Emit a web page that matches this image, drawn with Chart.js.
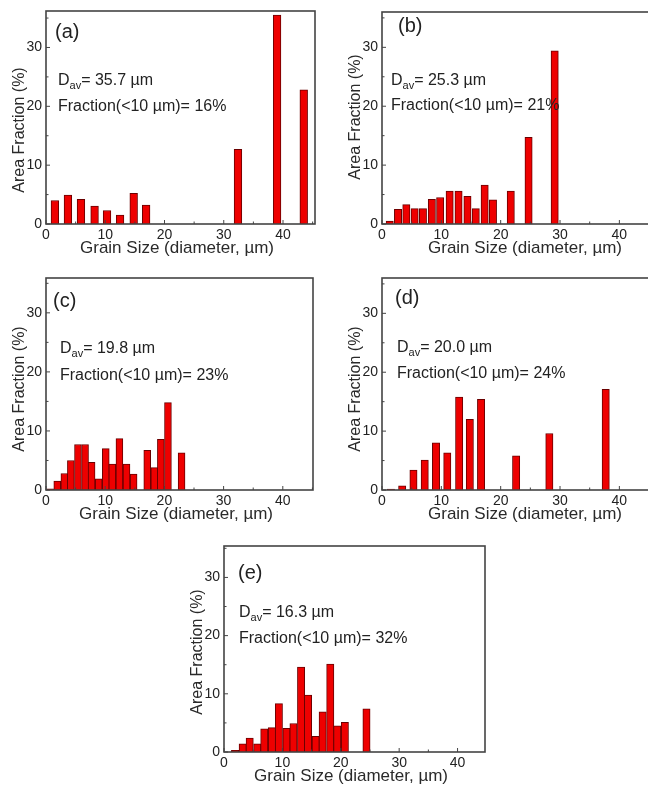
<!DOCTYPE html>
<html>
<head>
<meta charset="utf-8">
<script src="https://cdn.jsdelivr.net/npm/chart.js@4.4.0/dist/chart.umd.min.js"></script>
<style>
  body { margin: 0; background: #fff; width: 648px; height: 787px; overflow: hidden; position: relative; }
  canvas { position: absolute; }
</style>
</head>
<body>
<canvas id="ca"></canvas>
<canvas id="cb"></canvas>
<canvas id="cc"></canvas>
<canvas id="cd"></canvas>
<canvas id="ce"></canvas>
<script>
// grain size (um) / area fraction (%) per panel
const sizeA = [1.5, 3.7, 5.9, 8.2, 10.3, 12.5, 14.8, 16.9, 32.4, 39.0, 43.5]
const areaA = [4.0, 4.9, 4.2, 3.05, 2.3, 1.5, 5.2, 3.2, 12.7, 35.5, 22.8]

const sizeB = [1.3, 2.7, 4.1, 5.5, 6.9, 8.4, 9.8, 11.4, 12.9, 14.4, 15.8, 17.3, 18.7, 21.7, 24.7, 29.1]
const areaB = [0.5, 2.5, 3.3, 2.6, 2.6, 4.2, 4.5, 5.6, 5.6, 4.7, 2.6, 6.6, 4.1, 5.6, 14.7, 29.4]

const sizeC = [0.7, 1.9, 3.1, 4.2, 5.4, 6.6, 7.7, 8.9, 10.1, 11.2, 12.4, 13.6, 14.8, 17.1, 18.3, 19.4, 20.6, 22.9]
const areaC = [0.2, 1.5, 2.8, 5.0, 7.7, 7.7, 4.7, 1.9, 7.0, 4.4, 8.7, 4.4, 2.7, 6.7, 3.8, 8.6, 14.8, 6.3]

const sizeD = [1.5, 3.4, 5.3, 7.2, 9.1, 11.0, 13.0, 14.8, 16.7, 22.6, 28.2, 37.7]
const areaD = [0.15, 0.7, 3.4, 5.1, 8.0, 6.3, 15.8, 12.0, 15.4, 5.8, 9.6, 17.1]

const sizeE = [1.9, 3.2, 4.4, 5.7, 6.9, 8.2, 9.4, 10.7, 11.9, 13.2, 14.4, 15.7, 16.9, 18.2, 19.4, 20.7, 24.4]
const areaE = [0.3, 1.4, 2.4, 1.4, 4.0, 4.2, 8.3, 4.05, 4.9, 14.6, 9.8, 2.7, 6.9, 15.1, 4.5, 5.1, 7.4]

const xTicks = [0, 10, 20, 30, 40]
const yTicks = [0, 10, 20, 30]

const panelTags = ['(a)', '(b)', '(c)', '(d)', '(e)']
const davValues = ['35.7', '25.3', '19.8', '20.0', '16.3']
const fineValues = ['16%', '21%', '23%', '24%', '32%']

const xTitle = 'Grain Size (diameter, \u00b5m)'
const yTitle = 'Area Fraction (%)'

const FONT = "'Liberation Sans', Arial, sans-serif"

// plot boxes [left, top, width, height] and text offsets
const panels = [
    { id: 'ca', sx: sizeA, sy: areaA, box: [46, 11, 269, 213], xMax: 45.4, yMax: 36.2, bar: 7.7,
      tag: [9, 27], dav: [12, 74], frac: 100, yt: [22, 130], xt: 177 },
    { id: 'cb', sx: sizeB, sy: areaB, box: [382, 12, 270, 212], xMax: 45.5, yMax: 36, bar: 7.3,
      tag: [16, 20], dav: [9, 73], frac: 98, yt: [22, 117], xt: 525 },
    { id: 'cc', sx: sizeC, sy: areaC, box: [46, 278, 267, 212], xMax: 45.1, yMax: 35.9, bar: 6.9,
      tag: [7, 29], dav: [14, 75], frac: 102, yt: [22, 389], xt: 176 },
    { id: 'cd', sx: sizeD, sy: areaD, box: [382, 278, 270, 212], xMax: 45.5, yMax: 36, bar: 7.3,
      tag: [13, 26], dav: [15, 74], frac: 100, yt: [22, 389], xt: 525 },
    { id: 'ce', sx: sizeE, sy: areaE, box: [224, 546, 261, 206], xMax: 44.7, yMax: 35.4, bar: 7.3,
      tag: [14, 33], dav: [15, 71], frac: 97, yt: [22, 652], xt: 351 }
]

//frame, inward ticks and labels
const panelDecor = {
    id: 'panelDecor',
    afterDraw(chart, args, opts) {
        const p = opts.panel
        const i = opts.index
        const { ctx, chartArea: a, scales: { x, y } } = chart
        ctx.save()
        ctx.strokeStyle = '#444'
        ctx.lineWidth = 1
        xTicks.forEach(v => {
            let px = x.getPixelForValue(v)
            ctx.beginPath(); ctx.moveTo(px, a.bottom); ctx.lineTo(px, a.bottom - 4); ctx.stroke()
            if (v + 5 < p.xMax) {
                px = x.getPixelForValue(v + 5)
                ctx.beginPath(); ctx.moveTo(px, a.bottom); ctx.lineTo(px, a.bottom - 2.5); ctx.stroke()
            }
        })
        yTicks.forEach(v => {
            let py = y.getPixelForValue(v)
            ctx.beginPath(); ctx.moveTo(a.left, py); ctx.lineTo(a.left + 4, py); ctx.stroke()
            if (v + 5 < p.yMax) {
                py = y.getPixelForValue(v + 5)
                ctx.beginPath(); ctx.moveTo(a.left, py); ctx.lineTo(a.left + 2.5, py); ctx.stroke()
            }
        })
        ctx.lineWidth = 1.6
        ctx.strokeRect(a.left, a.top, a.right - a.left, a.bottom - a.top)

        ctx.fillStyle = '#222'
        ctx.textBaseline = 'alphabetic'
        ctx.textAlign = 'left'
        ctx.font = '20px ' + FONT
        ctx.fillText(panelTags[i], a.left + p.tag[0], a.top + p.tag[1])

        ctx.font = '16px ' + FONT
        let tx = a.left + p.dav[0]
        const ty = a.top + p.dav[1]
        ctx.fillText('D', tx, ty)
        tx += ctx.measureText('D').width
        ctx.font = '11px ' + FONT
        ctx.fillText('av', tx, ty + 4)
        tx += ctx.measureText('av').width
        ctx.font = '16px ' + FONT
        ctx.fillText('= ' + davValues[i] + ' \u00b5m', tx, ty)
        ctx.fillText('Fraction(<10 \u00b5m)= ' + fineValues[i], a.left + p.dav[0], a.top + p.frac)

        // axis titles
        ctx.fillStyle = '#2a2a2a'
        ctx.font = '17px ' + FONT
        ctx.textAlign = 'center'
        const left = chart.canvas.offsetLeft
        const top = chart.canvas.offsetTop
        ctx.fillText(xTitle, p.xt - left, a.bottom + 29)
        ctx.font = '16px ' + FONT
        ctx.translate(a.left - p.yt[0], p.yt[1] - top)
        ctx.rotate(-Math.PI / 2)
        ctx.fillText(yTitle, 0, 0)
        ctx.restore()
    }
}

panels.forEach((p, i) => {
    const [bl, bt, bw, bh] = p.box
    const el = document.getElementById(p.id)
    el.width = bw + 46 + 8
    el.height = bh + 20 + 40
    el.style.left = (bl - 46) + 'px'
    el.style.top = (bt - 20) + 'px'

    new Chart(el, {
        type: 'bar',
        data: {
            datasets: [{
                data: p.sx.map((s, k) => ({ x: s, y: p.sy[k] })),
                backgroundColor: '#ee0000',
                borderColor: '#6a0000',
                borderWidth: 1,
                barThickness: p.bar
            }]
        },
        options: {
            responsive: false,
            animation: false,
            layout: { padding: { top: 20, right: 8, left: 0, bottom: 0 } },
            plugins: {
                legend: { display: false },
                tooltip: { enabled: false },
                panelDecor: { panel: p, index: i }
            },
            scales: {
                x: {
                    type: 'linear', min: 0, max: p.xMax, offset: false,
                    afterBuildTicks: s => { s.ticks = xTicks.map(v => ({ value: v })) },
                    afterFit: s => { s.height = 40 },
                    grid: { display: false, drawTicks: false, offset: false },
                    border: { display: false },
                    ticks: { font: { family: FONT, size: 14 }, color: '#222', padding: 3, maxRotation: 0, autoSkip: false }
                },
                y: {
                    type: 'linear', min: 0, max: p.yMax,
                    afterBuildTicks: s => { s.ticks = yTicks.map(v => ({ value: v })) },
                    afterFit: s => { s.width = 46 },
                    grid: { display: false, drawTicks: false },
                    border: { display: false },
                    ticks: { font: { family: FONT, size: 14 }, color: '#222', padding: 4 }
                }
            }
        },
        plugins: [panelDecor]
    })
})
</script>
</body>
</html>
